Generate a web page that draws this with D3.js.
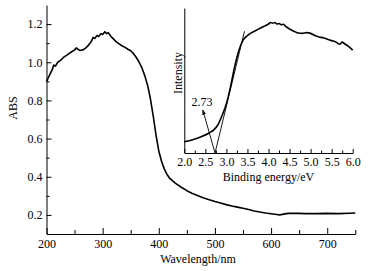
<!DOCTYPE html>
<head>
  <style>
    body { margin: 0; background: #fff; }
    text { font-family: "Liberation Serif", "Times New Roman", serif; fill: #000; }
    .axis path, .axis line { stroke: #000; }
  </style>
  <title>UV-vis absorption with band gap inset</title>
</head>
<body>
  <script src="https://cdn.jsdelivr.net/npm/d3@7"></script>
  <script>
    // main spectrum: wavelength (nm) vs ABS
    var wavelength = [200, 205, 210, 213, 216, 220, 225, 230, 235, 240, 245, 250, 253, 256, 260, 265, 270, 275, 280, 283, 286, 290, 293, 297, 300, 304, 307, 310, 315, 320, 325, 330, 335, 340, 345, 350, 355, 360, 365, 370, 375, 380, 385, 390, 395, 400, 405, 410, 415, 420, 430, 440, 450, 460, 470, 480, 490, 500, 510, 520, 530, 540, 550, 560, 570, 580, 590, 600, 610, 615, 620, 630, 640, 650, 660, 680, 700, 720, 740, 750];
    var absorb = [0.90, 0.93, 0.96, 0.985, 0.98, 1.00, 1.01, 1.025, 1.035, 1.045, 1.055, 1.065, 1.075, 1.068, 1.062, 1.065, 1.075, 1.09, 1.11, 1.13, 1.125, 1.14, 1.135, 1.15, 1.145, 1.16, 1.15, 1.155, 1.135, 1.12, 1.105, 1.095, 1.085, 1.078, 1.068, 1.06, 1.045, 1.025, 1.0, 0.97, 0.93, 0.88, 0.81, 0.72, 0.62, 0.535, 0.48, 0.44, 0.41, 0.39, 0.365, 0.345, 0.327, 0.312, 0.3, 0.289, 0.279, 0.27, 0.262, 0.254, 0.247, 0.241, 0.235, 0.228, 0.221, 0.215, 0.21, 0.206, 0.202, 0.2, 0.203, 0.208, 0.209, 0.208, 0.207, 0.207, 0.208, 0.207, 0.209, 0.21];
    var xMajor = [200, 300, 400, 500, 600, 700];
    var xMinor = [250, 350, 450, 550, 650, 750];
    var yMajor = [0.2, 0.4, 0.6, 0.8, 1.0, 1.2];
    var yMinor = [0.3, 0.5, 0.7, 0.9, 1.1];

    // inset: binding energy (eV) vs intensity (a.u.)
    var energy = [2.0, 2.2, 2.4, 2.6, 2.7, 2.8, 2.9, 3.0, 3.1, 3.2, 3.3, 3.4, 3.5, 3.6, 3.7, 3.8, 3.9, 4.0, 4.05, 4.1, 4.15, 4.2, 4.25, 4.3, 4.35, 4.4, 4.5, 4.6, 4.7, 4.8, 4.9, 5.0, 5.1, 5.2, 5.3, 5.4, 5.5, 5.6, 5.7, 5.75, 5.8, 5.9, 6.0];
    var intensity = [0.078, 0.092, 0.112, 0.14, 0.16, 0.195, 0.26, 0.34, 0.46, 0.6, 0.71, 0.78, 0.81, 0.83, 0.845, 0.86, 0.875, 0.89, 0.9, 0.895, 0.9, 0.89, 0.893, 0.885, 0.888, 0.875, 0.855, 0.84, 0.828, 0.825, 0.83, 0.825, 0.81, 0.8, 0.795, 0.785, 0.775, 0.765, 0.75, 0.765, 0.755, 0.735, 0.71];
    var eMajor = [2.0, 2.5, 3.0, 3.5, 4.0, 4.5, 5.0, 5.5, 6.0];
    var eMinor = [2.25, 2.75, 3.25, 3.75, 4.25, 4.75, 5.25, 5.75];
    var tangentE = [2.73, 3.43];
    var tangentI = [0, 0.84];
    var bandGap = 2.73;

    var W = 373, H = 271;
    var svg = d3.select("body").append("svg")
      .attr("width", W)
      .attr("height", H);

    // main scales
    var x = d3.scaleLinear().domain([200, 750]).range([46.5, 355.3]);
    var y = d3.scaleLinear().domain([0.1, 1.3]).range([234, 5]);

    var fmt1 = d3.format(".1f");

    // X axis
    svg.append("g").attr("class", "axis")
      .attr("transform", "translate(0,234)")
      .call(d3.axisBottom(x).tickValues(xMajor).tickSize(-6).tickPadding(5).tickSizeOuter(0).tickFormat(d3.format("d")))
      .call(g => g.selectAll("text").style("font-size", "12px").style("font-family", "Liberation Serif"));
    svg.append("g").attr("class", "axis")
      .attr("transform", "translate(0,234)")
      .call(d3.axisBottom(x).tickValues(xMinor).tickSize(-4).tickSizeOuter(0).tickFormat(""))
      .call(g => g.select(".domain").remove());

    // Y axis
    svg.append("g").attr("class", "axis")
      .attr("transform", "translate(46.5,0)")
      .call(d3.axisLeft(y).tickValues(yMajor).tickSize(-5).tickPadding(4).tickSizeOuter(0).tickFormat(fmt1))
      .call(g => g.selectAll("text").style("font-size", "12px").style("font-family", "Liberation Serif"));
    svg.append("g").attr("class", "axis")
      .attr("transform", "translate(46.5,0)")
      .call(d3.axisLeft(y).tickValues(yMinor).tickSize(-3).tickSizeOuter(0).tickFormat(""))
      .call(g => g.select(".domain").remove());

    // axis labels
    svg.append("text")
      .attr("x", 198).attr("y", 263)
      .style("text-anchor", "middle").style("font-size", "12px")
      .text("Wavelength/nm");
    svg.append("text")
      .attr("transform", "translate(17,108) rotate(-90)")
      .style("text-anchor", "middle").style("font-size", "12px")
      .text("ABS");

    // main curve
    var mainData = wavelength.map((w, i) => [w, absorb[i]]);
    svg.append("path")
      .datum(mainData)
      .attr("fill", "none")
      .attr("stroke", "#000")
      .attr("stroke-width", 1.6)
      .attr("stroke-linejoin", "round")
      .attr("d", d3.line().x(d => x(d[0])).y(d => y(d[1])));

    // inset scales
    var xi = d3.scaleLinear().domain([2, 6]).range([184.3, 352.7]);
    var yi = d3.scaleLinear().domain([0, 1]).range([153, 8]);

    svg.append("g").attr("class", "axis")
      .attr("transform", "translate(0,153)")
      .call(d3.axisBottom(xi).tickValues(eMajor).tickSize(-4).tickPadding(4).tickSizeOuter(0).tickFormat(fmt1))
      .call(g => g.selectAll("text").style("font-size", "12px").style("font-family", "Liberation Serif"));
    svg.append("g").attr("class", "axis")
      .attr("transform", "translate(0,153)")
      .call(d3.axisBottom(xi).tickValues(eMinor).tickSize(-2.5).tickSizeOuter(0).tickFormat(""))
      .call(g => g.select(".domain").remove());
    svg.append("g").attr("class", "axis")
      .attr("transform", "translate(184.3,0)")
      .call(d3.axisLeft(yi).tickValues([]).tickSizeOuter(0));

    svg.append("text")
      .attr("x", 268.5).attr("y", 181)
      .style("text-anchor", "middle").style("font-size", "12px")
      .text("Binding energy/eV");
    svg.append("text")
      .attr("transform", "translate(181.5,73) rotate(-90)")
      .style("text-anchor", "middle").style("font-size", "12px")
      .text("Intensity");

    // inset curve
    var insetData = energy.map((e, i) => [e, intensity[i]]);
    svg.append("path")
      .datum(insetData)
      .attr("fill", "none")
      .attr("stroke", "#000")
      .attr("stroke-width", 1.6)
      .attr("stroke-linejoin", "round")
      .attr("d", d3.line().curve(d3.curveMonotoneX).x(d => xi(d[0])).y(d => yi(d[1])));

    // tangent line
    svg.append("line")
      .attr("x1", xi(tangentE[0])).attr("y1", yi(tangentI[0]))
      .attr("x2", xi(tangentE[1])).attr("y2", yi(tangentI[1]))
      .attr("stroke", "#000").attr("stroke-width", 0.9);

    // arrow to band gap label
    svg.append("defs").append("marker")
      .attr("id", "arr")
      .attr("viewBox", "0 0 10 10")
      .attr("refX", 9).attr("refY", 5)
      .attr("markerWidth", 6).attr("markerHeight", 6)
      .attr("orient", "auto")
      .append("path").attr("d", "M0,1.5 L10,5 L0,8.5 Z").attr("fill", "#000");
    svg.append("line")
      .attr("x1", xi(bandGap)).attr("y1", yi(0))
      .attr("x2", xi(2.44)).attr("y2", yi(0.297))
      .attr("stroke", "#000").attr("stroke-width", 0.9)
      .attr("marker-end", "url(#arr)");
    svg.append("text")
      .attr("x", xi(2.42)).attr("y", yi(0.325))
      .style("text-anchor", "middle").style("font-size", "12px")
      .text(bandGap.toFixed(2));
  </script>
</body>
